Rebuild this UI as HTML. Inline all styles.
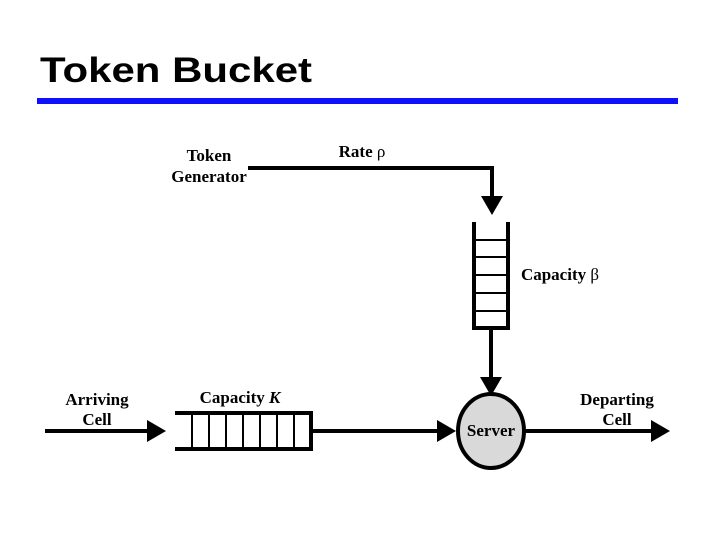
<!DOCTYPE html>
<html><head><style>
body{margin:0;background:#fff;}
svg{display:block;}
</style></head><body>
<svg width="720" height="540" viewBox="0 0 720 540" xmlns="http://www.w3.org/2000/svg">
<text x="40" y="82" font-family="Liberation Sans, sans-serif" font-weight="bold" font-size="35" fill="#000" textLength="272" lengthAdjust="spacingAndGlyphs">Token Bucket</text>
<rect x="37" y="98" width="641" height="6" fill="#1010ff"/>
<g stroke="#000" fill="none">
<polyline points="248,168 492,168 492,200" stroke-width="4"/>
<path d="M474,222 V328 H508 V222" stroke-width="4"/>
<g stroke-width="2">
<line x1="474" y1="240" x2="508" y2="240"/><line x1="474" y1="257" x2="508" y2="257"/>
<line x1="474" y1="275" x2="508" y2="275"/><line x1="474" y1="293" x2="508" y2="293"/>
<line x1="474" y1="311" x2="508" y2="311"/>
</g>
<line x1="491" y1="328" x2="491" y2="380" stroke-width="4"/>
<line x1="45" y1="431" x2="150" y2="431" stroke-width="4"/>
<path d="M175,413 H311 V449 H175" stroke-width="4"/>
<g stroke-width="2">
<line x1="192" y1="413" x2="192" y2="449"/><line x1="209" y1="413" x2="209" y2="449"/>
<line x1="226" y1="413" x2="226" y2="449"/><line x1="243" y1="413" x2="243" y2="449"/>
<line x1="260" y1="413" x2="260" y2="449"/><line x1="277" y1="413" x2="277" y2="449"/>
<line x1="294" y1="413" x2="294" y2="449"/>
</g>
<line x1="313" y1="431" x2="440" y2="431" stroke-width="4"/>
<line x1="525" y1="431" x2="652" y2="431" stroke-width="4"/>
<ellipse cx="491" cy="431" rx="33" ry="37" fill="#d9d9d9" stroke-width="4"/>
</g>
<g fill="#000">
<polygon points="481,196 503,196 492,215"/>
<polygon points="480,377 502,377 491,396"/>
<polygon points="147,420 147,442 166,431"/>
<polygon points="437,420 437,442 456,431"/>
<polygon points="651,420 651,442 670,431"/>
</g>
<g font-family="Liberation Serif, serif" font-weight="bold" font-size="17" fill="#000" text-anchor="middle">
<text x="209" y="161">Token</text>
<text x="209" y="182">Generator</text>
<text x="362" y="157">Rate <tspan font-weight="normal">ρ</tspan></text>
<text x="560" y="280">Capacity <tspan font-weight="normal">β</tspan></text>
<text x="97" y="405">Arriving</text>
<text x="97" y="425">Cell</text>
<text x="240" y="403">Capacity <tspan font-style="italic">K</tspan></text>
<text x="617" y="405">Departing</text>
<text x="617" y="425">Cell</text>
<text x="491" y="436">Server</text>
</g>
</svg>
</body></html>
